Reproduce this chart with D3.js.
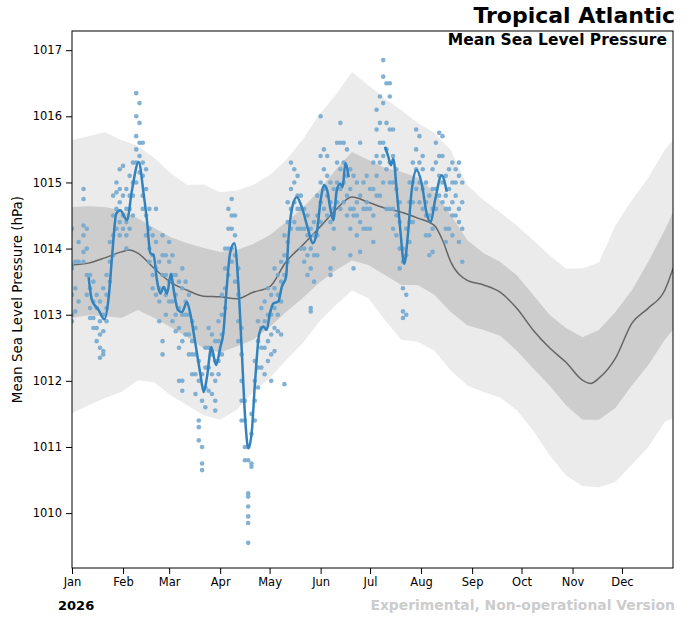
<!DOCTYPE html>
<html>
<head>
<meta charset="utf-8">
<script src="https://cdn.jsdelivr.net/npm/d3@7"></script>
<style>
  html, body { margin: 0; padding: 0; background: #fff; }
  svg { display: block; font-family: "DejaVu Sans", sans-serif; }
</style>
</head>
<body>
<div class="chart"></div>
<script>
// climatology bands, every 10 days (day of year)
const bandDays = [0, 10, 20, 30, 40, 50, 60, 70, 80, 90, 100, 110, 120, 130, 140, 150, 160, 170, 180,
  190, 200, 210, 220, 230, 240, 250, 260, 270, 280, 290, 300, 310, 320, 330, 340, 350, 360, 365]
const outerHi = [1015.64, 1015.70, 1015.76, 1015.64, 1015.55, 1015.37, 1015.14, 1014.96, 1014.97, 1014.85,
  1014.88, 1014.96, 1015.11, 1015.34, 1015.64, 1016.02, 1016.32, 1016.67, 1016.47, 1016.27, 1016.09,
  1015.90, 1015.75, 1015.49, 1014.96, 1014.73, 1014.55, 1014.35, 1014.13, 1013.90, 1013.70, 1013.70,
  1013.79, 1014.35, 1014.73, 1015.07, 1015.49, 1015.64]
const outerLo = [1011.51, 1011.63, 1011.74, 1011.83, 1012.01, 1011.98, 1011.78, 1011.63, 1011.48, 1011.41,
  1011.56, 1011.83, 1012.04, 1012.31, 1012.57, 1012.89, 1013.14, 1013.37, 1013.25, 1012.92, 1012.62,
  1012.59, 1012.46, 1012.16, 1011.93, 1011.83, 1011.75, 1011.56, 1011.25, 1010.88, 1010.57, 1010.41,
  1010.39, 1010.47, 1010.73, 1011.00, 1011.38, 1011.44]
const innerHi = [1014.63, 1014.64, 1014.63, 1014.58, 1014.46, 1014.31, 1014.17, 1014.08, 1014.01, 1013.95,
  1013.98, 1014.07, 1014.20, 1014.40, 1014.61, 1014.88, 1015.19, 1015.46, 1015.34, 1015.22, 1015.16,
  1015.07, 1014.85, 1014.51, 1014.13, 1013.93, 1013.80, 1013.60, 1013.30, 1013.00, 1012.80, 1012.66,
  1012.77, 1013.04, 1013.37, 1013.80, 1014.28, 1014.55]
const innerLo = [1012.95, 1012.99, 1012.98, 1012.95, 1013.07, 1012.95, 1012.81, 1012.66, 1012.49, 1012.43,
  1012.52, 1012.62, 1012.81, 1013.04, 1013.25, 1013.48, 1013.67, 1013.82, 1013.75, 1013.60, 1013.45,
  1013.45, 1013.30, 1013.04, 1012.84, 1012.77, 1012.68, 1012.46, 1012.19, 1011.93, 1011.63, 1011.41,
  1011.41, 1011.59, 1011.93, 1012.24, 1012.62, 1012.77]

// climatological median
const medianDays = [0, 10, 20, 30, 35, 40, 50, 60, 70, 80, 90, 100, 110, 120, 130, 140, 150, 160, 170, 180,
  190, 200, 210, 220, 225, 230, 240, 250, 260, 270, 280, 290, 300, 310, 315, 320, 330, 340, 350, 360, 365]
const medianVals = [1013.75, 1013.78, 1013.86, 1013.95, 1013.98, 1013.93, 1013.70, 1013.49, 1013.37, 1013.28,
  1013.27, 1013.24, 1013.34, 1013.42, 1013.80, 1014.05, 1014.31, 1014.58, 1014.78, 1014.70, 1014.61,
  1014.55, 1014.46, 1014.35, 1014.13, 1013.80, 1013.52, 1013.45, 1013.34, 1013.10, 1012.77, 1012.50,
  1012.28, 1012.01, 1011.96, 1012.04, 1012.34, 1012.87, 1013.10, 1013.37, 1013.70]

// 2026 smoothed series, two pieces [day, hPa]
const smoothA = [[10.1, 1013.57], [12.1, 1013.22], [16.2, 1013.07], [19.6, 1012.93], [22.3, 1013.27],
  [24.3, 1013.87], [26.9, 1014.53], [29.3, 1014.58], [33.4, 1014.43], [36.4, 1014.88], [40.5, 1015.31],
  [43.5, 1014.83], [45.5, 1014.43], [47.6, 1013.93], [49.6, 1013.90], [51.6, 1013.52], [53.6, 1013.32],
  [55.7, 1013.42], [57.7, 1013.32], [60.1, 1013.62], [62.1, 1013.32], [64.4, 1013.07], [66.8, 1013.04],
  [69.8, 1013.19], [71.8, 1013.02], [74.9, 1012.57], [77.9, 1012.11], [80.0, 1011.83], [82.0, 1012.06],
  [84.6, 1012.51], [87.5, 1012.24], [90.1, 1012.51], [91.9, 1012.72], [94.0, 1013.42], [96.0, 1013.93],
  [98.6, 1014.08], [101.0, 1013.47], [103.1, 1012.46], [105.1, 1011.46], [107.1, 1010.98], [109.1, 1011.21],
  [111.1, 1011.96], [113.8, 1012.72], [116.2, 1012.82], [118.2, 1012.77], [120.2, 1013.02], [122.3, 1013.17],
  [125.3, 1013.20], [127.4, 1013.42], [130.0, 1013.57], [131.4, 1014.13], [133.4, 1014.58], [136.5, 1014.78],
  [139.5, 1014.63], [143.5, 1014.28], [146.2, 1014.08], [148.6, 1014.23], [151.0, 1014.73], [153.0, 1014.96],
  [155.0, 1014.88], [156.7, 1014.63], [158.7, 1014.43], [160.8, 1014.88], [162.8, 1014.98], [164.4, 1014.93],
  [166.0, 1015.29], [168.0, 1015.08]]
const smoothB = [[190.1, 1015.54], [192.1, 1015.39], [193.7, 1015.26], [195.1, 1015.36], [197.2, 1014.88],
  [199.2, 1014.33], [201.8, 1013.77], [203.9, 1014.18], [206.3, 1014.88], [209.3, 1015.19], [212.4, 1014.98],
  [215.4, 1014.53], [217.8, 1014.40], [220.5, 1014.73], [224.5, 1015.11], [227.6, 1014.86]]

// 2026 observations, grouped by day
const obs = [
  [0, [1014.3, 1013.75, 1013.7, 1013.3, 1013.0, 1012.9]], [2, [1013.8, 1013.4, 1013.05]],
  [4, [1014.1, 1013.8, 1013.2]], [7, [1014.9, 1014.75, 1014.35, 1014.2, 1013.95, 1013.8]],
  [9, [1014.3, 1014.0, 1013.6, 1013.3]], [11, [1013.6, 1013.4, 1013.1, 1012.95]],
  [13, [1013.5, 1013.2, 1012.95, 1012.8]], [15, [1013.3, 1013.1, 1012.8, 1012.6]],
  [17, [1013.2, 1012.9, 1012.7, 1012.5, 1012.35]], [19, [1013.4, 1013.0, 1012.75, 1012.45, 1012.4]],
  [21, [1013.6, 1013.3, 1013.1, 1012.9]], [23, [1014.1, 1013.8, 1013.5]],
  [25, [1014.8, 1014.5, 1014.2, 1013.9]], [27, [1015.0, 1014.85, 1014.6, 1014.3]],
  [29, [1015.2, 1014.9, 1014.7, 1014.4, 1014.2]], [31, [1015.25, 1014.8, 1014.5, 1014.3]],
  [33, [1014.9, 1014.6, 1014.4, 1014.2, 1014.0]], [35, [1015.1, 1014.8, 1014.6, 1014.3]],
  [37, [1015.3, 1015.0, 1014.8, 1014.5]], [39, [1016.35, 1016.0, 1015.7, 1015.5, 1015.3, 1015.0]],
  [41, [1016.2, 1015.9, 1015.6, 1015.4, 1015.15]], [43, [1015.6, 1015.3, 1015.1, 1014.8, 1014.6]],
  [45, [1015.2, 1014.9, 1014.5, 1014.2]], [47, [1014.6, 1014.3, 1014.0, 1013.8]],
  [49, [1014.2, 1013.9, 1013.6, 1013.4]], [51, [1014.6, 1014.1, 1013.7, 1013.3]],
  [53, [1013.8, 1013.4, 1013.2, 1012.9]], [55, [1014.2, 1013.9, 1013.6, 1012.6, 1012.4]],
  [57, [1013.9, 1013.6, 1013.3, 1013.0]], [59, [1014.1, 1013.8, 1013.5, 1013.2]],
  [61, [1013.9, 1013.6, 1013.2, 1012.9]], [63, [1013.6, 1013.3, 1013.0, 1012.75]],
  [65, [1013.5, 1013.1, 1012.8, 1012.5, 1012.0]], [67, [1013.7, 1013.4, 1013.0, 1012.6, 1012.0, 1011.85]],
  [69, [1013.5, 1013.2, 1013.0, 1012.7]], [71, [1013.3, 1013.0, 1012.7, 1012.4]],
  [73, [1012.9, 1012.6, 1012.4, 1012.1]], [75, [1012.8, 1012.4, 1012.1, 1011.8]],
  [77, [1012.3, 1012.0, 1011.4, 1011.3, 1011.1]], [79, [1012.1, 1011.7, 1011.0, 1010.75, 1010.65]],
  [81, [1012.5, 1012.2, 1011.9, 1011.6]], [83, [1012.8, 1012.5, 1012.2, 1011.85]],
  [85, [1012.7, 1012.4, 1012.1, 1011.8]], [87, [1012.6, 1012.3, 1012.0, 1011.7, 1011.55]],
  [89, [1012.9, 1012.6, 1012.3, 1012.1]], [91, [1013.3, 1013.0, 1012.7, 1012.4]],
  [93, [1014.0, 1013.7, 1013.4, 1013.1]], [95, [1014.6, 1014.3, 1014.0, 1013.6]],
  [97, [1014.75, 1014.5, 1014.3, 1014.0, 1013.8]], [99, [1014.5, 1014.2, 1013.9, 1013.5]],
  [101, [1013.7, 1013.3, 1012.9, 1012.6]], [103, [1012.8, 1012.4, 1012.0, 1011.7, 1011.4]],
  [105, [1011.7, 1011.4, 1011.0, 1010.8]],
  [107, [1011.0, 1010.8, 1010.3, 1010.25, 1010.1, 1009.95, 1009.85, 1009.55]],
  [109, [1011.5, 1011.2, 1010.75, 1010.7]], [111, [1012.3, 1012.0, 1011.7, 1011.4]],
  [113, [1012.9, 1012.6, 1012.2, 1011.9]], [115, [1013.1, 1012.8, 1012.5, 1012.2]],
  [117, [1013.2, 1012.9, 1012.5, 1012.1]], [119, [1013.4, 1013.0, 1012.6, 1012.3]],
  [121, [1013.3, 1013.0, 1012.7, 1012.4, 1012.0]], [123, [1013.7, 1013.4, 1013.1, 1012.8, 1012.45]],
  [125, [1013.6, 1013.3, 1013.0, 1012.75]], [127, [1013.8, 1013.5, 1013.2, 1012.7]],
  [129, [1014.2, 1013.9, 1013.6, 1011.95]], [131, [1014.7, 1014.4, 1014.1, 1013.8]],
  [133, [1015.3, 1014.9, 1014.6, 1014.3]], [135, [1015.2, 1015.0, 1014.7, 1014.4]],
  [137, [1015.1, 1014.8, 1014.6, 1014.3]], [139, [1014.8, 1014.6, 1014.3, 1014.0]],
  [141, [1014.6, 1014.3, 1014.0, 1013.8]], [143, [1014.5, 1014.2, 1013.9, 1013.6]],
  [145, [1014.3, 1014.0, 1013.7, 1013.1, 1013.05]], [147, [1014.4, 1014.2, 1013.9, 1013.5]],
  [149, [1014.8, 1014.5, 1014.2, 1013.9]], [151, [1016.0, 1015.4, 1015.0, 1014.7, 1014.4]],
  [153, [1015.5, 1015.2, 1014.9, 1014.6]], [155, [1015.4, 1015.1, 1014.8, 1014.5]],
  [157, [1015.0, 1014.7, 1014.4, 1013.7, 1013.6]], [159, [1014.9, 1014.6, 1014.3, 1014.0]],
  [161, [1015.6, 1015.3, 1015.0, 1014.7]], [163, [1015.9, 1015.6, 1015.2, 1014.9, 1014.6]],
  [165, [1015.6, 1015.3, 1015.0, 1014.7]], [167, [1015.5, 1015.1, 1014.8, 1014.5]],
  [169, [1015.2, 1014.9, 1014.6, 1014.3, 1013.9]], [171, [1015.1, 1014.6, 1014.5, 1013.7]],
  [173, [1015.0, 1014.7, 1014.5, 1014.2]], [175, [1015.6, 1014.8, 1014.4, 1013.95]],
  [177, [1015.0, 1014.6, 1014.3]], [179, [1015.1, 1014.7, 1014.6, 1014.3]],
  [181, [1014.9, 1014.6, 1014.3]], [183, [1015.3, 1014.9, 1014.5, 1014.1]],
  [185, [1016.1, 1015.8, 1015.4, 1015.1, 1014.8]], [187, [1016.3, 1015.9, 1015.6, 1015.3, 1014.8]],
  [189, [1016.85, 1016.6, 1016.2, 1015.6, 1015.4, 1015.0]], [191, [1016.5, 1015.9, 1015.5, 1015.2, 1014.6]],
  [193, [1016.5, 1016.3, 1015.8, 1015.3, 1015.0, 1014.6]], [195, [1015.8, 1015.4, 1015.0, 1014.6, 1014.3]],
  [197, [1015.2, 1014.9, 1014.5, 1014.2]], [199, [1014.7, 1014.4, 1014.0, 1013.7]],
  [201, [1014.0, 1013.8, 1013.4, 1013.05, 1012.95]], [203, [1014.3, 1013.9, 1013.3, 1013.0]],
  [205, [1015.0, 1014.7, 1014.4, 1014.1]], [207, [1015.3, 1015.0, 1014.7, 1014.4]],
  [209, [1015.8, 1015.5, 1015.2, 1014.9]], [211, [1015.7, 1015.3, 1015.0, 1014.7]],
  [213, [1015.4, 1015.2, 1014.9, 1014.6]], [215, [1015.0, 1014.7, 1014.5, 1014.2]],
  [217, [1014.8, 1014.5, 1014.2, 1013.9]], [219, [1015.2, 1014.9, 1014.6, 1014.3, 1013.95]],
  [221, [1015.6, 1015.3, 1014.9, 1014.6]], [223, [1015.75, 1015.4, 1015.1, 1014.8]],
  [225, [1015.7, 1015.4, 1015.0, 1014.7]], [227, [1015.1, 1014.8, 1014.6, 1014.3, 1014.1]],
  [229, [1015.2, 1014.9, 1014.6, 1014.3]], [231, [1015.3, 1015.0, 1014.7, 1014.5, 1014.2]],
  [233, [1015.2, 1015.0, 1014.8, 1014.5]], [235, [1015.3, 1015.1, 1014.6, 1014.4, 1014.1]],
  [237, [1015.0, 1014.7, 1014.3, 1013.8]]
]

const yTicks = [1010, 1011, 1012, 1013, 1014, 1015, 1016, 1017]
const monthLabels = ['Jan', 'Feb', 'Mar', 'Apr', 'May', 'Jun', 'Jul', 'Aug', 'Sep', 'Oct', 'Nov', 'Dec']
const yearLabel = '2026'

const width = 690
const height = 618
const margin = { top: 31, right: 17, bottom: 50, left: 72 }

const start = Date.UTC(2026, 0, 1)
const toDate = d => new Date(start + d * 864e5)

const x = d3
  .scaleUtc()
  .domain([new Date(start), new Date(Date.UTC(2027, 0, 1))])
  .range([margin.left, width - margin.right])

const y = d3
  .scaleLinear()
  .domain([1009.17, 1017.29])
  .range([height - margin.bottom, margin.top])

const svg = d3
  .select('.chart')
  .append('svg')
  .attr('width', width)
  .attr('height', height)

svg
  .append('clipPath')
  .attr('id', 'plot-clip')
  .append('rect')
  .attr('x', margin.left)
  .attr('y', margin.top)
  .attr('width', width - margin.left - margin.right)
  .attr('height', height - margin.top - margin.bottom)

const plot = svg.append('g').attr('clip-path', 'url(#plot-clip)')

const band = (hi, lo) =>
  d3
    .area()
    .x((d, i) => x(toDate(bandDays[i])))
    .y0((d, i) => y(lo[i]))
    .y1((d, i) => y(hi[i]))

plot
  .append('path')
  .datum(bandDays)
  .attr('fill', '#ebebeb')
  .attr('d', band(outerHi, outerLo))

plot
  .append('path')
  .datum(bandDays)
  .attr('fill', '#cdcdcd')
  .attr('d', band(innerHi, innerLo))

plot
  .append('path')
  .datum(medianDays)
  .attr('fill', 'none')
  .attr('stroke', '#666')
  .attr('stroke-width', 1.5)
  .attr(
    'd',
    d3
      .line()
      .x(d => x(toDate(d)))
      .y((d, i) => y(medianVals[i]))
      .curve(d3.curveMonotoneX)
  )

const dots = obs.flatMap(([day, vals]) => vals.map(v => ({ day, v })))

plot
  .selectAll('circle.obs')
  .data(dots)
  .enter()
  .append('circle')
  .attr('class', 'obs')
  .attr('cx', d => x(toDate(d.day)))
  .attr('cy', d => y(d.v))
  .attr('r', 2.3)
  .attr('fill', '#74a9cf')
  .attr('fill-opacity', 0.9)

const smoothLine = d3
  .line()
  .x(d => x(toDate(d[0])))
  .y(d => y(d[1]))
  .curve(d3.curveMonotoneX)

plot
  .selectAll('path.smooth')
  .data([smoothA, smoothB])
  .enter()
  .append('path')
  .attr('class', 'smooth')
  .attr('fill', 'none')
  .attr('stroke', '#3182bd')
  .attr('stroke-width', 2.5)
  .attr('stroke-linejoin', 'round')
  .attr('d', smoothLine)

// axes
const xAxis = svg
  .append('g')
  .attr('transform', `translate(0,${height - margin.bottom})`)
  .call(
    d3
      .axisBottom(x)
      .ticks(d3.utcMonth.every(1))
      .tickSize(6)
      .tickPadding(4)
      .tickFormat((d, i) => monthLabels[i])
  )

const yAxis = svg
  .append('g')
  .attr('transform', `translate(${margin.left},0)`)
  .call(d3.axisLeft(y).tickValues(yTicks).tickSize(6).tickPadding(4).tickFormat(d3.format('d')))

;[xAxis, yAxis].forEach(g => {
  g.select('.domain').remove()
  g.selectAll('.tick line').attr('stroke', '#000').attr('stroke-width', 1)
  g.selectAll('.tick text')
    .attr('fill', '#000')
    .style('font-family', '"DejaVu Sans", sans-serif')
    .style('font-size', '11.5px')
})

xAxis.selectAll('.tick').filter(d => d.getUTCFullYear() > 2026).remove()

svg
  .append('rect')
  .attr('x', margin.left)
  .attr('y', margin.top)
  .attr('width', width - margin.left - margin.right)
  .attr('height', height - margin.top - margin.bottom)
  .attr('fill', 'none')
  .attr('stroke', '#000')
  .attr('stroke-width', 1)

// texts
svg
  .append('text')
  .attr('transform', `translate(22,${(margin.top + height - margin.bottom) / 2}) rotate(-90)`)
  .attr('text-anchor', 'middle')
  .style('font-size', '13.5px')
  .text('Mean Sea Level Pressure (hPa)')

svg
  .append('text')
  .attr('x', 675)
  .attr('y', 23)
  .attr('text-anchor', 'end')
  .style('font-size', '22px')
  .style('font-weight', 'bold')
  .text('Tropical Atlantic')

svg
  .append('text')
  .attr('x', 667)
  .attr('y', 45)
  .attr('text-anchor', 'end')
  .style('font-size', '15.5px')
  .style('font-weight', 'bold')
  .text('Mean Sea Level Pressure')

svg
  .append('text')
  .attr('x', 58)
  .attr('y', 610)
  .style('font-size', '13px')
  .style('font-weight', 'bold')
  .text(yearLabel)

svg
  .append('text')
  .attr('x', 675)
  .attr('y', 610)
  .attr('text-anchor', 'end')
  .attr('fill', '#cccccc')
  .style('font-size', '13.9px')
  .style('font-weight', 'bold')
  .text('Experimental, Non-operational Version')
</script>
</body>
</html>
